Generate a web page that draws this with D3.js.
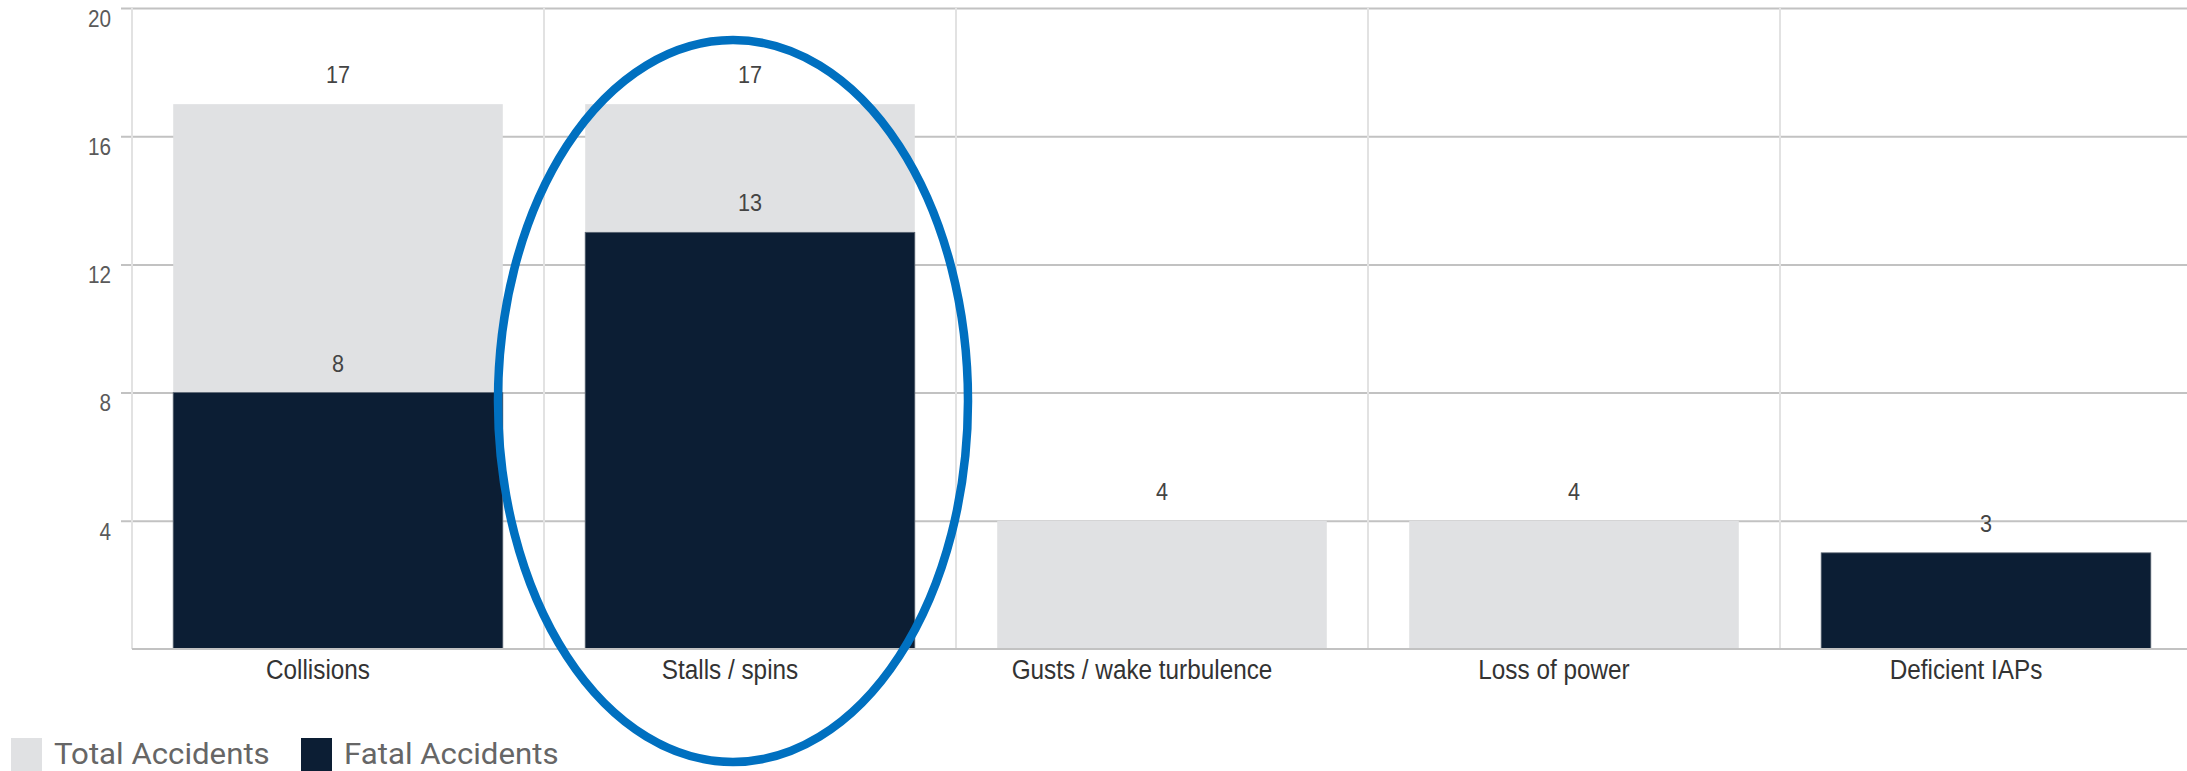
<!DOCTYPE html>
<html>
<head>
<meta charset="utf-8">
<script src="https://cdn.jsdelivr.net/npm/d3@7"></script>
<style>
  html, body { margin: 0; padding: 0; background: #fff; }
  svg { display: block; }
</style>
</head>
<body>
<svg id="chart" width="2187" height="771"></svg>
<script>
// Accident causes: total vs fatal accidents
const categories = ["Collisions", "Stalls / spins", "Gusts / wake turbulence", "Loss of power", "Deficient IAPs"];
const totalAccidents = [17, 17, 4, 4, 3];
const fatalAccidents = [8, 13, 0, 0, 3];
const yTicks = [4, 8, 12, 16, 20];
const seriesNames = ["Total Accidents", "Fatal Accidents"];
const highlighted = "Stalls / spins";

const colors = { total: "#e0e1e3", fatal: "#0c1e34", ring: "#0070c0" };
const squeeze = 0.9; // horizontal condensing of the text glyphs

const svg = d3.select("#chart");
const plot = { left: 132, right: 2192, top: 8, bottom: 649 };

const x = d3.scaleBand()
  .domain(categories)
  .range([plot.left, plot.right])
  .paddingInner(0.2)
  .paddingOuter(0.1);

const y = d3.scaleLinear()
  .domain([0, 20])
  .range([plot.bottom, plot.top]);

const rows = categories.map((c, i) => ({ cat: c, total: totalAccidents[i], fatal: fatalAccidents[i] }));

function condense(sel, k = squeeze) {
  sel.each(function () {
    const w = this.getComputedTextLength();
    d3.select(this).attr("textLength", w * k).attr("lengthAdjust", "spacingAndGlyphs");
  });
}

// horizontal gridlines + y tick labels
const yAxis = svg.append("g")
  .attr("transform", `translate(${plot.left - 11},0)`)
  .call(d3.axisLeft(y).tickValues(yTicks).tickSize(-(plot.right - plot.left + 11)).tickPadding(10));
yAxis.select(".domain").remove();
yAxis.selectAll(".tick line").attr("stroke", "#c2c2c2").attr("stroke-width", 2);
yAxis.selectAll(".tick text")
  .attr("y", 11)
  .attr("fill", "#5a5a5a")
  .attr("font-family", "'Liberation Sans', Arial, sans-serif")
  .attr("font-size", 23)
  .call(condense);

// category dividers and the left axis line
const step = x.step();
const boundaries = d3.range(categories.length).map(i => x(categories[i]) - x.paddingInner() * step / 2);
svg.append("g").selectAll("line")
  .data(boundaries)
  .join("line")
  .attr("x1", d => d).attr("x2", d => d)
  .attr("y1", y(20)).attr("y2", y(0))
  .attr("stroke", "#e2e2e2")
  .attr("stroke-width", 2);

// bars: total behind, fatal in front
svg.append("g").selectAll("rect")
  .data(rows)
  .join("rect")
  .attr("x", d => x(d.cat))
  .attr("width", x.bandwidth())
  .attr("y", d => y(d.total))
  .attr("height", d => y(0) - y(d.total))
  .attr("fill", colors.total);

svg.append("g").selectAll("rect")
  .data(rows.filter(d => d.fatal > 0))
  .join("rect")
  .attr("x", d => x(d.cat))
  .attr("width", x.bandwidth())
  .attr("y", d => y(d.fatal))
  .attr("height", d => y(0) - y(d.fatal))
  .attr("fill", colors.fatal)
  .attr("stroke", "#5a6472")
  .attr("stroke-width", 0.8);

// baseline
svg.append("line")
  .attr("x1", plot.left).attr("x2", plot.right)
  .attr("y1", y(0)).attr("y2", y(0))
  .attr("stroke", "#c2c2c2")
  .attr("stroke-width", 2);

// value labels
const labels = [];
rows.forEach(d => {
  if (d.total !== d.fatal) labels.push({ cat: d.cat, v: d.total });
  if (d.fatal > 0) labels.push({ cat: d.cat, v: d.fatal });
});
svg.append("g").selectAll("text")
  .data(labels)
  .join("text")
  .attr("x", d => x(d.cat) + x.bandwidth() / 2)
  .attr("y", d => y(d.v) - 21)
  .attr("text-anchor", "middle")
  .attr("fill", "#444")
  .attr("font-family", "'Liberation Sans', Arial, sans-serif")
  .attr("font-size", 24)
  .text(d => d.v)
  .call(condense);

// category labels (set slightly left of the bar centre)
svg.append("g").selectAll("text")
  .data(categories)
  .join("text")
  .attr("x", d => x(d) + x.bandwidth() / 2 - 20)
  .attr("y", y(0) + 30)
  .attr("text-anchor", "middle")
  .attr("fill", "#333")
  .attr("font-family", "'Liberation Sans', Arial, sans-serif")
  .attr("font-size", 27)
  .text(d => d)
  .call(condense);

// legend
const legendColors = [colors.total, colors.fatal];
const legendX = [11, 301];
const legend = svg.append("g").selectAll("g")
  .data(seriesNames)
  .join("g")
  .attr("transform", (d, i) => `translate(${legendX[i]},738)`);
legend.append("rect")
  .attr("width", 31).attr("height", 33)
  .attr("fill", (d, i) => legendColors[i]);
legend.append("text")
  .attr("x", 43)
  .attr("y", 26)
  .attr("fill", "#666")
  .attr("font-family", "Roboto, 'Noto Sans', sans-serif")
  .attr("font-size", 30)
  .text(d => d)
  .call(condense, 1.04);

// highlight ring around the emphasised category
const cx = x(highlighted) + x.bandwidth() / 2;
svg.append("ellipse")
  .attr("cx", cx - 17)
  .attr("cy", 401)
  .attr("rx", 235)
  .attr("ry", 361)
  .attr("fill", "none")
  .attr("stroke", colors.ring)
  .attr("stroke-width", 8.5);
</script>
</body>
</html>
